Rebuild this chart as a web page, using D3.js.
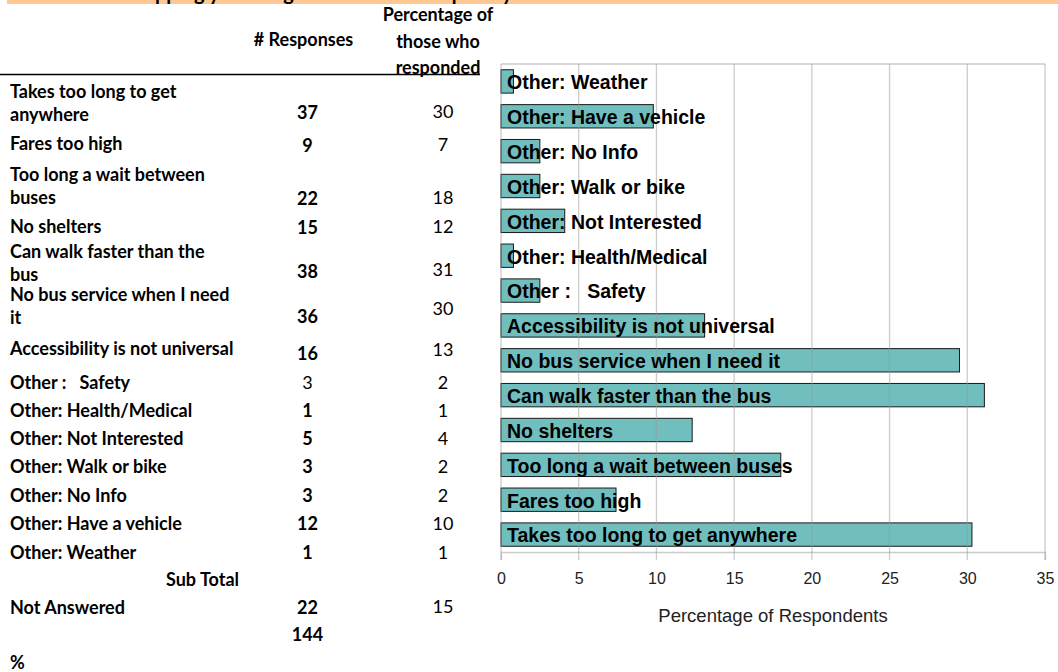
<!DOCTYPE html>
<html>
<head>
<meta charset="utf-8">
<script src="https://cdn.jsdelivr.net/npm/d3@7"></script>
<style>
  body { margin: 0; background: #fff; }
  svg { display: block; }
  .tbl text { font-family: Lato, "Open Sans", sans-serif; font-size: 18px; fill: #000; white-space: pre; }
  .tbl .b { font-weight: bold; }
  .chart text { font-family: "Liberation Sans", Arial, sans-serif; white-space: pre; }
</style>
</head>
<body>
<div id="chart"></div>
<script>
// ---- data ----
const categories = [
  "Takes too long to get anywhere", "Fares too high", "Too long a wait between buses",
  "No shelters", "Can walk faster than the bus", "No bus service when I need it",
  "Accessibility is not universal", "Other :   Safety", "Other: Health/Medical",
  "Other: Not Interested", "Other: Walk or bike", "Other: No Info",
  "Other: Have a vehicle", "Other: Weather"
];
const tableLabels = [
  ["Takes too long to get", "anywhere"], ["Fares too high"], ["Too long a wait between", "buses"],
  ["No shelters"], ["Can walk faster than the", "bus"], ["No bus service when I need", "it"],
  ["Accessibility is not universal"], ["Other :   Safety"], ["Other: Health/Medical"],
  ["Other: Not Interested"], ["Other: Walk or bike"], ["Other: No Info"],
  ["Other: Have a vehicle"], ["Other: Weather"]
];
const responses = [37, 9, 22, 15, 38, 36, 16, 3, 1, 5, 3, 3, 12, 1];
const pctLabels = [30, 7, 18, 12, 31, 30, 13, 2, 1, 4, 2, 2, 10, 1];
const barPercent = [30.3, 7.4, 18.0, 12.3, 31.1, 29.5, 13.1, 2.5, 0.8, 4.1, 2.5, 2.5, 9.8, 0.8];
const notAnswered = 22;
const notAnsweredPct = 15;
const totalResponses = 144;
const xTicks = [0, 5, 10, 15, 20, 25, 30, 35];
const titleText = "What is stopping you using the bus more frequently?";
const xTitle = "Percentage of Respondents";

// ---- layout (irregular spreadsheet rows) ----
const W = 1058, H = 672;
const labelY = [92, 143.5, 175, 227, 252, 295, 349, 382.5, 411, 439, 467, 496, 524, 552.5];
const numY   = [112.7, 145.5, 199, 228, 272, 317, 354, 382.5, 411, 439, 467, 496, 524, 552.5];
const pctY   = [111.7, 145, 198, 227, 269.5, 308.5, 349.5, 382.5, 411, 439, 467, 496, 524, 552.5];
const lineGap = 22.5;
const colLabel = 10, colNum = 307.5, colPct = 443;

const svg = d3.select("#chart").append("svg")
  .attr("width", W)
  .attr("height", H);

// title banner (clipped at the top, as in the source sheet)
svg.append("rect")
  .attr("x", 7).attr("y", 0).attr("width", W - 7).attr("height", 4)
  .attr("fill", "#ffc893");
const title = svg.append("text")
  .attr("y", -0.5)
  .attr("font-family", "Lato, sans-serif")
  .attr("font-weight", "bold")
  .attr("font-size", 20)
  .text(titleText);
title.attr("x", 155 - title.node().getSubStringLength(0, 11));

// ---- table ----
const tbl = svg.append("g").attr("class", "tbl");

tbl.append("text").attr("class", "b").attr("x", 303.5).attr("y", 40).attr("dy", "0.35em")
  .attr("text-anchor", "middle").text("# Responses");
["Percentage of", "those who", "responded"].forEach((t, i) => {
  tbl.append("text").attr("class", "b").attr("x", 438).attr("y", 15 + i * 26.5).attr("dy", "0.35em")
    .attr("text-anchor", "middle").text(t);
});
tbl.append("line")
  .attr("x1", 0).attr("x2", 480).attr("y1", 74.5).attr("y2", 74.5)
  .attr("stroke", "#000").attr("stroke-width", 1.3);

const rows = tbl.selectAll("g.row")
  .data(tableLabels.map((lines, i) => ({ lines, n: responses[i], p: pctLabels[i], i })))
  .enter().append("g").attr("class", "row");

rows.each(function(d) {
  const g = d3.select(this);
  d.lines.forEach((t, k) => {
    g.append("text").attr("class", "b")
      .attr("x", colLabel).attr("y", labelY[d.i] + k * lineGap).attr("dy", "0.35em")
      .text(t);
  });
  g.append("text").attr("class", d.i === 7 ? "" : "b")
    .attr("x", colNum).attr("y", numY[d.i]).attr("dy", "0.35em")
    .attr("text-anchor", "middle").text(d.n);
  g.append("text")
    .attr("x", colPct).attr("y", pctY[d.i]).attr("dy", "0.35em")
    .attr("text-anchor", "middle").text(d.p);
});

tbl.append("text").attr("class", "b").attr("x", 239).attr("y", 580).attr("dy", "0.35em")
  .attr("text-anchor", "end").text("Sub Total");
tbl.append("text").attr("class", "b").attr("x", colLabel).attr("y", 607.7).attr("dy", "0.35em")
  .text("Not Answered");
tbl.append("text").attr("class", "b").attr("x", colNum).attr("y", 607.7).attr("dy", "0.35em")
  .attr("text-anchor", "middle").text(notAnswered);
tbl.append("text").attr("x", colPct).attr("y", 607).attr("dy", "0.35em")
  .attr("text-anchor", "middle").text(notAnsweredPct);
tbl.append("text").attr("class", "b").attr("x", colNum).attr("y", 635).attr("dy", "0.35em")
  .attr("text-anchor", "middle").text(totalResponses);
tbl.append("text").attr("class", "b").attr("x", colLabel).attr("y", 662.7).attr("dy", "0.35em")
  .text("%");

// ---- bar chart ----
const margin = { top: 64, right: 13, bottom: 120, left: 501 };
const chart = svg.append("g").attr("class", "chart");

chart.append("rect")
  .attr("x", 484).attr("y", 56).attr("width", W - 484).attr("height", H - 56)
  .attr("fill", "#fff");

const x = d3.scaleLinear()
  .domain([0, 35])
  .range([margin.left, W - margin.right]);

const y = d3.scaleBand()
  .domain(categories.slice().reverse())
  .range([margin.top, H - margin.bottom])
  .paddingInner(0.33)
  .paddingOuter(0.165);

const barData = categories.map((c, i) => ({ c, v: barPercent[i] }));

chart.selectAll("rect.bar")
  .data(barData)
  .enter().append("rect")
    .attr("class", "bar")
    .attr("x", x(0))
    .attr("y", d => y(d.c))
    .attr("width", d => x(d.v) - x(0))
    .attr("height", y.bandwidth())
    .attr("fill", "#70bebe")
    .attr("stroke", "#1a1a1a")
    .attr("stroke-width", 1);

// grid drawn over the bars, light so bars show through
const yBottom = H - margin.bottom;
chart.selectAll("line.grid")
  .data(xTicks)
  .enter().append("line")
    .attr("class", "grid")
    .attr("x1", d => x(d)).attr("x2", d => x(d))
    .attr("y1", margin.top).attr("y2", yBottom + 8)
    .attr("stroke", "#999").attr("stroke-opacity", 0.5).attr("stroke-width", 1.3);
chart.append("line")
  .attr("x1", x(0)).attr("x2", x(35)).attr("y1", margin.top).attr("y2", margin.top)
  .attr("stroke", "#999").attr("stroke-opacity", 0.5).attr("stroke-width", 1.3);

const xAxis = chart.append("g")
  .attr("transform", `translate(0,${yBottom})`)
  .call(d3.axisBottom(x).tickValues(xTicks).tickSize(8).tickPadding(13));
xAxis.select(".domain").attr("stroke", "#999").attr("stroke-opacity", 0.5).attr("stroke-width", 1.3);
xAxis.selectAll(".tick line").remove();
xAxis.selectAll(".tick text").attr("font-size", 16).attr("fill", "#222");

chart.append("text")
  .attr("x", (x(0) + x(35)) / 2)
  .attr("y", 616).attr("dy", "0.35em")
  .attr("text-anchor", "middle")
  .attr("font-size", 18.5)
  .attr("fill", "#222")
  .text(xTitle);

chart.selectAll("text.lbl")
  .data(barData)
  .enter().append("text")
    .attr("class", "lbl")
    .attr("x", x(0) + 6)
    .attr("y", d => y(d.c) + y.bandwidth() / 2 + 1)
    .attr("dy", "0.35em")
    .attr("font-size", 19.5)
    .attr("font-weight", "bold")
    .attr("fill", "#000")
    .text(d => d.c);
</script>
</body>
</html>
